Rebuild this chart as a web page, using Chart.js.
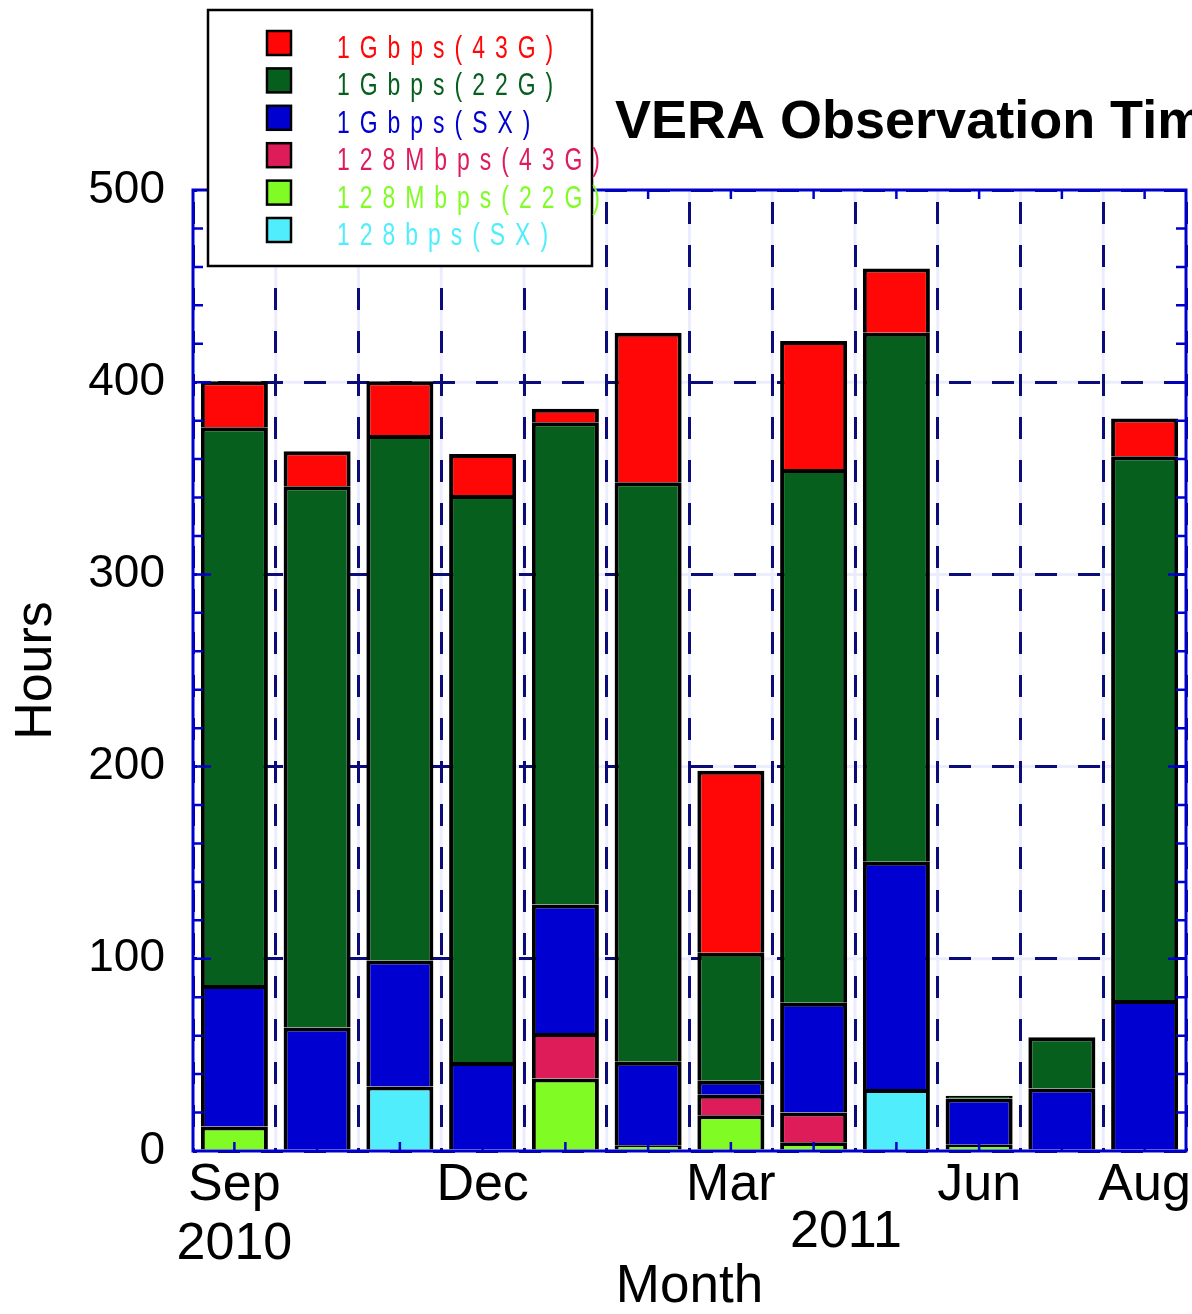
<!DOCTYPE html>
<html>
<head>
<meta charset="utf-8">
<script src="https://cdn.jsdelivr.net/npm/chart.js@4.4.1/dist/chart.umd.min.js"></script>
<style>
  html, body { margin: 0; padding: 0; background: #fff; overflow: hidden; }
  #wrap { position: relative; width: 1192px; height: 1314px; }
</style>
</head>
<body>
<div id="wrap"><canvas id="myChart" width="1192" height="1314"></canvas></div>
<script>
// months Sep 2010 .. Aug 2011
const months = ['Sep', 'Oct', 'Nov', 'Dec', 'Jan', 'Feb', 'Mar', 'Apr', 'May', 'Jun', 'Jul', 'Aug']
const monthTicks = [['Sep', '2010'], '', '', 'Dec', '', '', 'Mar', '', '', 'Jun', '', 'Aug']
const secondYear = '2011'
const chartTitle = 'VERA Observation Time'

// hours per month, stacked bottom -> top
const sx128 = [0, 0, 33.6, 0, 0, 0, 0, 0, 32.3, 0, 0, 0]
const m22 = [12.7, 0, 0, 0, 37.7, 3, 18.6, 4.5, 0, 3.3, 0, 0]
const m43 = [0, 0, 0, 0, 23.7, 0, 10.7, 15.5, 0, 0, 0, 0]
const gSX = [73.7, 64.3, 65.5, 46.3, 66.8, 43.4, 7.3, 57.1, 118.2, 24, 32.5, 78.5]
const g22 = [290.2, 281.6, 273.4, 295, 251, 301.5, 66.5, 277.8, 275.2, 1.5, 26.7, 283]
const g43 = [23.9, 18.2, 28, 21.3, 7, 77.8, 94.8, 66.5, 33.5, 0, 0, 19.6]

const seriesNames = ['128bps(SX)', '128Mbps(22G)', '128Mbps(43G)', '1Gbps(SX)', '1Gbps(22G)', '1Gbps(43G)']
const seriesValues = [sx128, m22, m43, gSX, g22, g43]
const seriesColors = ['#50eefc', '#80fc24', '#de1c5a', '#0000d0', '#075f1e', '#ff0707']

const family = '"Liberation Sans", Arial, Helvetica, sans-serif'
const frameColor = '#0000cc'
const dashColor = '#0b0b7a'

let datasets = seriesNames.map((name, i) => ({
    label: name,
    data: seriesValues[i].map(v => v || null),
    backgroundColor: seriesColors[i],
    borderColor: '#000',
    borderWidth: 4,
    barPercentage: 0.81,
    categoryPercentage: 1,
}))

// faint solid lines under the dashed grid
const lightGrid = {
    id: 'lightGrid',
    beforeDraw(chart) {
        const { ctx, chartArea: a, scales } = chart
        ctx.save()
        ctx.strokeStyle = '#ececff'
        ctx.lineWidth = 3
        for (let v = 100; v < 500; v += 100) {
            let y = scales.y.getPixelForValue(v)
            ctx.beginPath(); ctx.moveTo(a.left, y); ctx.lineTo(a.right, y); ctx.stroke()
        }
        let w = (a.right - a.left) / months.length
        for (let i = 1; i < months.length; i++) {
            let x = a.left + i * w
            ctx.beginPath(); ctx.moveTo(x, a.top); ctx.lineTo(x, a.bottom); ctx.stroke()
        }
        ctx.restore()
    }
}

// blue box round the plot with inward ticks
const frame = {
    id: 'frame',
    afterDatasetsDraw(chart) {
        const { ctx, chartArea: a, scales } = chart
        ctx.save()
        ctx.strokeStyle = frameColor
        ctx.lineWidth = 3
        ctx.strokeRect(a.left, a.top, a.right - a.left, a.bottom - a.top)
        ctx.lineWidth = 2.5
        for (let v = 20; v < 500; v += 20) {
            let y = scales.y.getPixelForValue(v)
            let len = v % 100 === 0 ? 18 : 10
            ctx.beginPath()
            ctx.moveTo(a.left, y); ctx.lineTo(a.left + len, y)
            ctx.moveTo(a.right, y); ctx.lineTo(a.right - len, y)
            ctx.stroke()
        }
        months.forEach((m, i) => {
            let x = scales.x.getPixelForValue(i)
            ctx.beginPath()
            ctx.moveTo(x, a.bottom); ctx.lineTo(x, a.bottom - 9)
            ctx.moveTo(x, a.top); ctx.lineTo(x, a.top + 9)
            ctx.stroke()
        })
        ctx.restore()
    }
}

// title, second year label and the boxed legend
const overlay = {
    id: 'overlay',
    afterDraw(chart) {
        const ctx = chart.ctx
        ctx.save()
        ctx.fillStyle = '#000'
        ctx.textBaseline = 'alphabetic'
        ctx.font = `bold 54px ${family}`
        ctx.fillText(chartTitle, 615, 138)
        ctx.font = `52px ${family}`
        ctx.fillText(secondYear, 790, 1247)

        ctx.fillStyle = '#fff'
        ctx.fillRect(208, 10, 384, 256)
        ctx.strokeStyle = '#000'
        ctx.lineWidth = 2.5
        ctx.strokeRect(208, 10, 384, 256)

        let order = chart.data.datasets.slice().reverse()
        order.forEach((ds, i) => {
            let cy = 43 + i * 37.4
            ctx.fillStyle = ds.backgroundColor
            ctx.fillRect(267, cy - 12, 24, 24)
            ctx.lineWidth = 2.5
            ctx.strokeRect(267, cy - 12, 24, 24)
            ctx.save()
            ctx.scale(0.74, 1)
            ctx.font = `31px ${family}`
            ctx.letterSpacing = '13.5px'
            ctx.fillText(ds.label, 337 / 0.74, cy + 15)
            ctx.restore()
        })
        ctx.restore()
    }
}

const canvas = document.querySelector('#myChart')

const chart = new Chart(canvas, {
    type: 'bar',
    data: {
        labels: months,
        datasets: datasets,
    },
    options: {
        responsive: false,
        animation: false,
        layout: { padding: { left: 0, right: 6, top: 190, bottom: 0 } },
        plugins: {
            legend: { display: false },
            tooltip: { enabled: false },
        },
        scales: {
            x: {
                stacked: true,
                grid: { color: dashColor, lineWidth: 3, drawTicks: false, offset: true },
                border: { display: false, dash: [22, 21], dashOffset: 31 },
                ticks: {
                    autoSkip: false,
                    maxRotation: 0,
                    padding: 6,
                    color: '#000',
                    font: { family: family, size: 52, lineHeight: 1.12 },
                    callback: (v, i) => monthTicks[i],
                },
                title: {
                    display: true,
                    text: 'Month',
                    color: '#000',
                    font: { family: family, size: 53, lineHeight: 1 },
                    padding: 0,
                },
                afterFit: s => {
                    s.height = 163
                    s.paddingLeft = 0
                    s.paddingRight = 0
                },
            },
            y: {
                stacked: true,
                min: 0,
                max: 500,
                grid: { color: dashColor, lineWidth: 3, drawTicks: false },
                border: { display: false, dash: [22, 21], dashOffset: 18 },
                ticks: {
                    stepSize: 100,
                    padding: 28,
                    color: '#000',
                    font: { family: family, size: 46 },
                },
                title: {
                    display: true,
                    text: 'Hours',
                    color: '#000',
                    font: { family: family, size: 52, lineHeight: 1.2 },
                    padding: { top: 5, bottom: 0 },
                },
                afterFit: s => {
                    s.width = 193
                    s.paddingTop = 0
                    s.paddingBottom = 0
                },
            },
        },
    },
    plugins: [lightGrid, frame, overlay],
})
</script>
</body>
</html>
